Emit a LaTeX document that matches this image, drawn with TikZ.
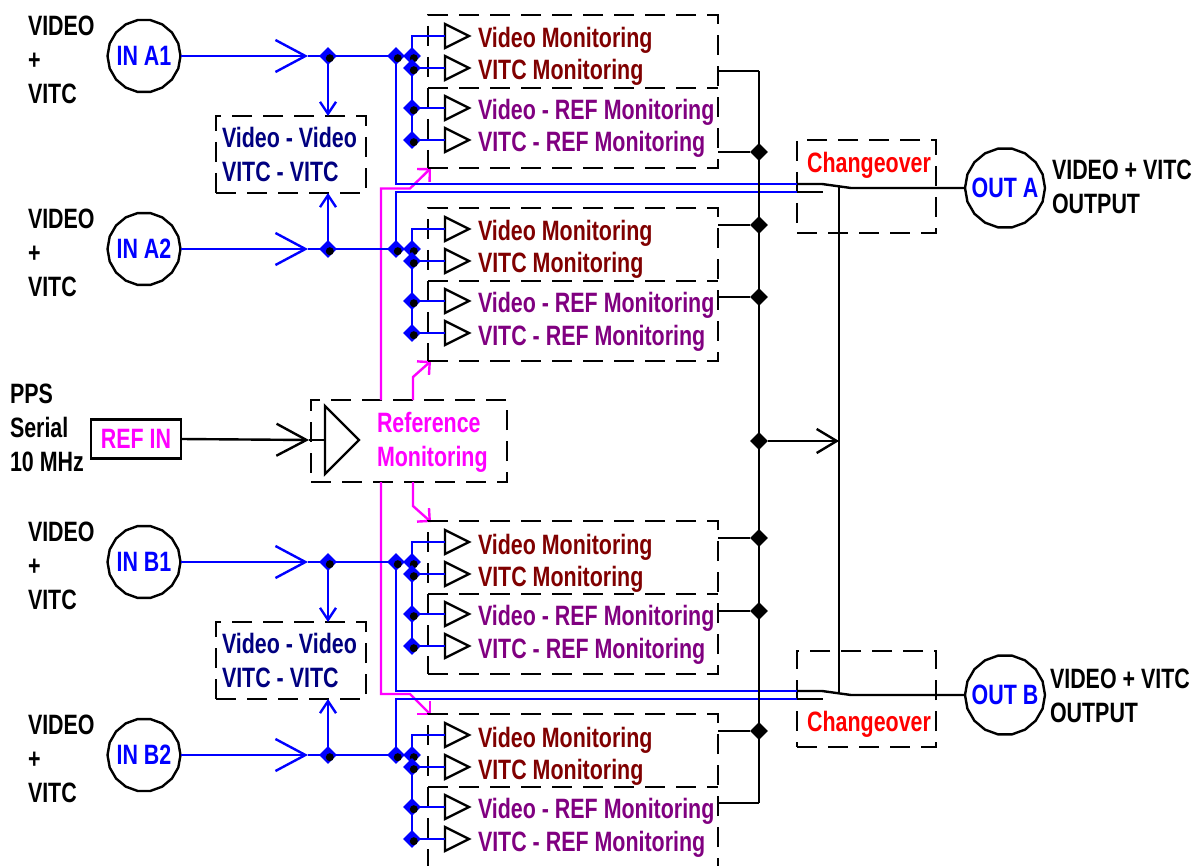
\documentclass[tikz,border=0pt]{standalone}
\usepackage{fontspec}
\setmainfont[FakeStretch=0.765]{Liberation Sans}
\usetikzlibrary{arrows.meta,shapes.geometric}

\definecolor{monred}{HTML}{800000}
\definecolor{refpurple}{HTML}{800080}
\definecolor{cmpnavy}{HTML}{000080}
\definecolor{refpink}{HTML}{FF00FF}

\tikzset{
    wire/.style={draw=black,line width=2.4pt},
    bluewire/.style={draw=blue,line width=2.4pt},
    refwire/.style={draw=refpink,line width=2.4pt},
    dashbox/.style={draw=black,line width=2.4pt,dash pattern=on 20pt off 11pt,inner sep=0pt,outer sep=0pt,anchor=north west},
    dashline/.style={draw=black,line width=2.4pt,dash pattern=on 20pt off 11pt},
    port/.style={regular polygon,regular polygon sides=18,draw=black,line width=2.4pt,inner sep=0pt,outer sep=0pt},
    amp/.style={isosceles triangle,isosceles triangle apex angle=53.13,draw=black,line width=2.4pt,fill=white,inner sep=0pt,outer sep=0pt,minimum height=24pt,anchor=lower side},
    bluedot/.style={diamond,fill=blue,inner sep=0pt,minimum size=18pt},
    blackdot/.style={diamond,fill=black,inner sep=0pt,minimum size=18pt},
    txt/.style={font=\bfseries\fontsize{28}{34}\selectfont,inner sep=0pt,outer sep=0pt},
    porttxt/.style={txt,text=blue},
    bigbarb/.style={-{Straight Barb[length=30pt,width=32pt]}},
    smallbarb/.style={-{Straight Barb[length=12pt,width=16pt]}},
    refbarb/.style={-{Straight Barb[length=9pt,width=18pt]}},
}

% blue junction with its black dot
\newcommand{\wirejoint}[2]{%
    \node[bluedot] (#1) at (#2) {};
    \fill[black] ([shift={(1.8pt,-2.2pt)}]#1.center) circle (4pt);
}

\begin{document}
\begin{tikzpicture}[x=1pt,y=-1pt]
    \useasboundingbox (0,0) rectangle (1196,866);

    % Reference input
    \node[dashbox,minimum width=196pt,minimum height=82pt] (refbox) at (311,400) {};
    \node[draw=black,line width=2.4pt,minimum width=90pt,minimum height=39pt,inner sep=0pt,text=refpink,txt] (refin) at (136,439) {REF IN};
    \node[amp,isosceles triangle apex angle=90,minimum height=34pt] (refamp) at (325,440) {};
    \node[txt,align=left,anchor=west,text=refpink] (reftxt) at (377,442) {Reference\\Monitoring};
    \node[txt,align=left,anchor=west] (reflbl) at (10,428) {PPS\\Serial\\10 MHz};
    \coordinate (reftip) at (309,440);
    \draw[wire,bigbarb] (refin.east) -- (reftip);
    \draw[wire] (reftip) -- (refamp.lower side);

    % Changeover boxes
    \node[dashbox,minimum width=139pt,minimum height=93pt] (chgA) at (797,140) {};
    \node[dashbox,minimum width=139pt,minimum height=96pt] (chgB) at (797,651) {};
    \node[txt,text=red,anchor=base] (chgAtxt) at (869,173) {Changeover};
    \node[txt,text=red,anchor=base] (chgBtxt) at (869,731) {Changeover};

    % Outputs
    \node[port,minimum size=80pt] (outA) at (1005,188) {};
    \node[port,minimum size=80pt] (outB) at (1005,695) {};
    \node[porttxt] (outAtxt) at (outA) {OUT A};
    \node[porttxt] (outBtxt) at (outB) {OUT B};
    \node[txt,align=left,anchor=west] (outAlbl) at (1052,187) {VIDEO + VITC\\OUTPUT};
    \node[txt,align=left,anchor=west] (outBlbl) at (1050,695.5) {VIDEO + VITC\\OUTPUT};

    % Reference wires
    \coordinate (refAa) at (381,400);
    \coordinate (refAb) at (413,400);
    \coordinate (refBa) at (381,482);
    \coordinate (refBb) at (413,482);
    \coordinate (tipA1) at (431,168);
    \coordinate (tipA2) at (431,361);
    \coordinate (tipB1) at (431,522);
    \coordinate (tipB2) at (431,715);
    \draw[refwire,refbarb] (refAa) -- (381,188.5) -- (410,188.5) -- (tipA1);
    \draw[refwire,refbarb] (refAb) -- (413,377) -- (tipA2);
    \draw[refwire,refbarb] (refBb) -- (413,506) -- (tipB1);
    \draw[refwire,refbarb] (refBa) -- (381,694) -- (410,694) -- (tipB2);

    % Comparison boxes
    \node[dashbox,minimum width=150pt,minimum height=77pt] (cmpA) at (216,116) {};
    \node[dashbox,minimum width=150pt,minimum height=77pt] (cmpB) at (216,622) {};
    \node[txt,align=left,anchor=west,text=cmpnavy] (cmpAtxt) at (222,154) {Video - Video\\VITC - VITC};
    \node[txt,align=left,anchor=west,text=cmpnavy] (cmpBtxt) at (222,660) {Video - Video\\VITC - VITC};

    % Input channels with their monitoring blocks
    \foreach \blk/\yy in {A1/56,A2/249,B1/562,B2/755} {
        \node[dashbox,minimum width=290pt,minimum height=153pt] (mon\blk) at (428,\yy-41) {};
        \draw[dashline] (428,\yy+32) -- (718,\yy+32);
        \node[port,minimum size=73pt] (in\blk) at (144,\yy) {};
        \node[porttxt] (in\blk txt) at (in\blk) {IN \blk};
        \node[txt,align=left,anchor=west] (lbl\blk) at (28,\yy+4) {VIDEO\\+\\VITC};
        \coordinate (arr\blk) at (308,\yy);
        \coordinate (jnt\blk) at (328,\yy);
        \coordinate (fork\blk) at (396,\yy);
        \coordinate (feed\blk) at (412,\yy);
        \coordinate (feed\blk b) at (412,\yy+12);
        \coordinate (feed\blk c) at (412,\yy+52);
        \coordinate (feed\blk d) at (412,\yy+84);
        \node[amp] (amp\blk a) at (445,\yy-20) {};
        \node[amp] (amp\blk b) at (445,\yy+12) {};
        \node[amp] (amp\blk c) at (445,\yy+52) {};
        \node[amp] (amp\blk d) at (445,\yy+84) {};
        \draw[bluewire,bigbarb] (in\blk) -- (arr\blk);
        \draw[bluewire] (arr\blk) -- (jnt\blk) -- (fork\blk) -- (feed\blk);
        \draw[bluewire] (amp\blk a.lower side) -| (feed\blk d) -- (amp\blk d.lower side);
        \draw[bluewire] (feed\blk b) -- (amp\blk b.lower side);
        \draw[bluewire] (feed\blk c) -- (amp\blk c.lower side);
        \node[txt,anchor=base west,text=monred] (txt\blk a) at (478,\yy-8) {Video Monitoring};
        \node[txt,anchor=base west,text=monred] (txt\blk b) at (478,\yy+24) {VITC Monitoring};
        \node[txt,anchor=base west,text=refpurple] (txt\blk c) at (478,\yy+63.5) {Video - REF Monitoring};
        \node[txt,anchor=base west,text=refpurple] (txt\blk d) at (478,\yy+96) {VITC - REF Monitoring};
    }

    % Comparison feeds
    \draw[bluewire,smallbarb] (jntA1) -- (cmpA.north -| jntA1);
    \draw[bluewire,smallbarb] (jntA2) -- (cmpA.south -| jntA2);
    \draw[bluewire,smallbarb] (jntB1) -- (cmpB.north -| jntB1);
    \draw[bluewire,smallbarb] (jntB2) -- (cmpB.south -| jntB2);

    % Changeover feeds
    \draw[bluewire] (forkA1) -- (396,184) -- (797,184);
    \draw[bluewire] (forkA2) -- (396,192) -- (797,192);
    \draw[bluewire] (forkB1) -- (396,691) -- (797,691);
    \draw[bluewire] (forkB2) -- (396,699) -- (797,699);
    \draw[wire] (797,184) -- (822,184) -- (851,188) -- (outA.west);
    \draw[wire] (797,192) -- (823,192);
    \draw[wire] (797,691) -- (822,691) -- (851,695) -- (outB.west);
    \draw[wire] (797,699) -- (823,699);

    % Junctions
    \foreach \blk in {A1,A2,B1,B2} {
        \wirejoint{dotj\blk}{jnt\blk}
        \wirejoint{dotf\blk}{fork\blk}
        \wirejoint{dota\blk}{feed\blk}
        \wirejoint{dotb\blk}{feed\blk b}
        \wirejoint{dotc\blk}{feed\blk c}
        \wirejoint{dotd\blk}{feed\blk d}
    }

    % Alarm bus
    \coordinate (bus71) at (759,71);
    \coordinate (bus803) at (759,803);
    \foreach \tap in {152,225,297,441,538,611,731} {
        \node[blackdot] (bus\tap) at (759,\tap) {};
    }
    \draw[wire] (bus71) -- (bus803);
    \foreach \tap in {71,152,225,297,538,611,731,803} {
        \coordinate (tap\tap) at (718,\tap);
        \draw[wire] (tap\tap) -- (bus\tap);
    }
    \coordinate (ctlA) at (839,187);
    \coordinate (ctlB) at (839,694);
    \coordinate (ctlM) at (839,441);
    \draw[wire] (ctlA) -- (ctlB);
    \draw[wire,-{Straight Barb[length=20pt,width=24pt]}] (bus441) -- (ctlM);
\end{tikzpicture}
\end{document}
